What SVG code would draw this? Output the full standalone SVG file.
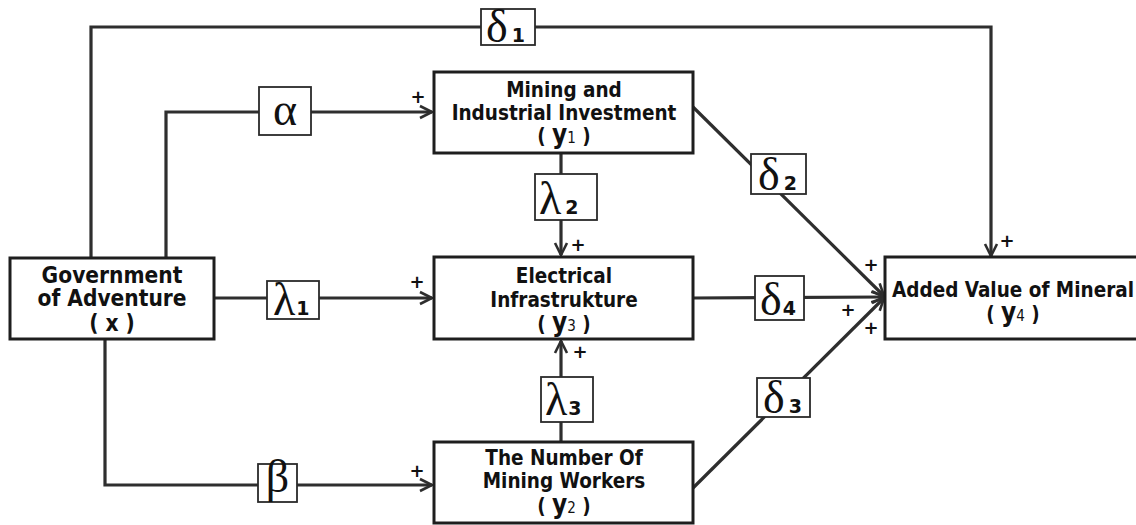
<svg xmlns="http://www.w3.org/2000/svg" width="1136" height="525" viewBox="0 0 1136 525">
<style>
.bg{fill:#ffffff}
.box{fill:#ffffff;stroke:#1e1e1e;stroke-width:3}
.lbl{fill:#ffffff;stroke:#2a2a2a;stroke-width:1.8}
.ln{fill:none;stroke:#2e2e2e;stroke-width:3.2}
.nt{font-family:"DejaVu Sans Condensed","DejaVu Sans",sans-serif;font-weight:bold;font-size:20.5px;fill:#111;text-anchor:middle}
.big{font-size:22.5px}
.yv{font-size:26px}
.ys{font-size:15px;font-weight:normal}
.gk{font-family:"Liberation Serif","Times New Roman",serif;font-size:46px;fill:#111}
.gs{font-family:"DejaVu Sans",sans-serif;font-weight:bold;font-size:19px;fill:#111}
.pl{font-family:"DejaVu Sans",sans-serif;font-weight:bold;font-size:18px;fill:#111;text-anchor:middle}
</style>
<defs>
<marker id="arr" markerUnits="userSpaceOnUse" markerWidth="16" markerHeight="16" refX="13" refY="7" orient="auto" viewBox="0 0 16 14">
<path d="M1,1 L13,7 L1,13" fill="none" stroke="#2e2e2e" stroke-width="2.6"/>
</marker>
</defs>
<rect class="bg" x="0" y="0" width="1136" height="525"/>
<g id="connectors">
<polyline class="ln" points="91,258 91,27 991,27 991,256" marker-end="url(#arr)"/>
<polyline class="ln" points="166,258 166,112 432,112" marker-end="url(#arr)"/>
<line class="ln" x1="214" y1="298" x2="432" y2="298" marker-end="url(#arr)"/>
<polyline class="ln" points="105,339 105,485 432,485" marker-end="url(#arr)"/>
<line class="ln" x1="561" y1="153" x2="561" y2="255" marker-end="url(#arr)"/>
<line class="ln" x1="561" y1="442" x2="561" y2="341" marker-end="url(#arr)"/>
<line class="ln" x1="693" y1="107" x2="884" y2="296" marker-end="url(#arr)"/>
<line class="ln" x1="693" y1="298" x2="884" y2="297" marker-end="url(#arr)"/>
<line class="ln" x1="693" y1="488" x2="884" y2="298" marker-end="url(#arr)"/>
<text class="pl" x="418" y="103">+</text>
<text class="pl" x="578" y="251">+</text>
<text class="pl" x="417" y="288">+</text>
<text class="pl" x="417" y="477">+</text>
<text class="pl" x="580" y="358">+</text>
<text class="pl" x="1007" y="247">+</text>
<text class="pl" x="871" y="271">+</text>
<text class="pl" x="848" y="316">+</text>
<text class="pl" x="871" y="334">+</text>
</g>
<g id="label-delta1">
<rect class="lbl" x="481" y="9" width="54" height="36"/>
<text x="486" y="42"><tspan class="gk">δ</tspan><tspan class="gs" dx="4">1</tspan></text>
</g>
<g id="label-alpha">
<rect class="lbl" x="259" y="87" width="52" height="48"/>
<text class="gk" x="285" y="125" text-anchor="middle" font-size="58">α</text>
</g>
<g id="label-lambda2">
<rect class="lbl" x="535" y="174" width="62" height="46"/>
<text x="539" y="214"><tspan class="gk">λ</tspan><tspan class="gs" dx="4">2</tspan></text>
</g>
<g id="label-lambda1">
<rect class="lbl" x="267" y="281" width="52" height="38"/>
<text x="273" y="315"><tspan class="gk">λ</tspan><tspan class="gs" dx="1">1</tspan></text>
</g>
<g id="label-beta">
<rect class="lbl" x="258" y="464" width="39" height="38"/>
<text class="gk" x="277.5" y="492" text-anchor="middle" font-size="38">β</text>
</g>
<g id="label-lambda3">
<rect class="lbl" x="541" y="377" width="52" height="45"/>
<text x="545" y="415"><tspan class="gk">λ</tspan><tspan class="gs" dx="1">3</tspan></text>
</g>
<g id="label-delta2">
<rect class="lbl" x="751" y="154" width="55" height="40"/>
<text x="758" y="190"><tspan class="gk">δ</tspan><tspan class="gs" dx="4">2</tspan></text>
</g>
<g id="label-delta4">
<rect class="lbl" x="755" y="276" width="49" height="44"/>
<text x="760" y="315"><tspan class="gk">δ</tspan><tspan class="gs" dx="1">4</tspan></text>
</g>
<g id="label-delta3">
<rect class="lbl" x="757" y="378" width="53" height="39"/>
<text x="763" y="413"><tspan class="gk">δ</tspan><tspan class="gs" dx="4">3</tspan></text>
</g>
<g id="node-x">
<rect class="box" x="10" y="258" width="204" height="81"/>
<text class="nt big" x="112" y="283">Government</text>
<text class="nt big" x="112" y="306">of Adventure</text>
<text class="nt big" x="112" y="331">( x )</text>
</g>
<g id="node-y1">
<rect class="box" x="434" y="72" width="259" height="81"/>
<text class="nt" x="564" y="97">Mining and</text>
<text class="nt" x="564" y="120">Industrial Investment</text>
<text class="nt" x="564" y="143">( <tspan class="yv">y</tspan><tspan class="ys">1</tspan> )</text>
</g>
<g id="node-y3">
<rect class="box" x="434" y="257" width="259" height="82"/>
<text class="nt" x="564" y="283">Electrical</text>
<text class="nt" x="564" y="307">Infrastrukture</text>
<text class="nt" x="564" y="331">( <tspan class="yv">y</tspan><tspan class="ys">3</tspan> )</text>
</g>
<g id="node-y2">
<rect class="box" x="434" y="442" width="259" height="81"/>
<text class="nt" x="564" y="465">The Number Of</text>
<text class="nt" x="564" y="488">Mining Workers</text>
<text class="nt" x="564" y="513">( <tspan class="yv">y</tspan><tspan class="ys">2</tspan> )</text>
</g>
<g id="node-y4">
<rect class="box" x="885" y="257" width="260" height="82"/>
<text class="nt" x="1013" y="297">Added Value of Mineral</text>
<text class="nt" x="1013" y="321">( <tspan class="yv">y</tspan><tspan class="ys">4</tspan> )</text>
</g>
</svg>
